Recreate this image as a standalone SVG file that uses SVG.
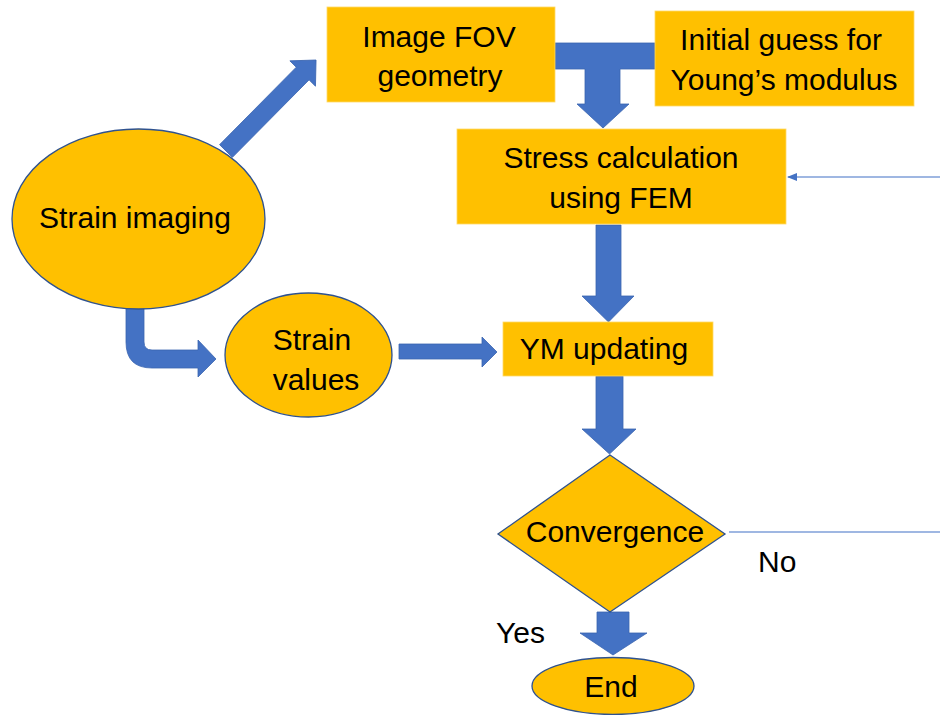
<svg xmlns="http://www.w3.org/2000/svg" width="940" height="715" viewBox="0 0 940 715">
<style>
.box{fill:#FFC000;stroke:#FFD966;stroke-width:0.8}
.oval{fill:#FFC000;stroke:#2F528F;stroke-width:1.3}
.arr{fill:#4472C4;stroke:#3A64B0;stroke-width:0.8}
.thin{stroke:#7F9FD8;stroke-width:1.3;fill:none}
text{font-family:"Liberation Sans",Arial,sans-serif;font-size:30px;fill:#000;text-anchor:middle}
.lbl{text-anchor:start}
</style>
<defs>
<marker id="ah" markerWidth="10" markerHeight="8" refX="9" refY="4" orient="auto" markerUnits="userSpaceOnUse">
<path d="M0,0 L10,4 L0,8 Z" fill="#4472C4"/>
</marker>
</defs>
<rect width="940" height="715" fill="#fff"/>
<g id="connectors">
<path class="arr" transform="translate(226,151) rotate(-45.3)" d="M0,-9 L109,-9 L109,-18 L128,0 L109,18 L109,9 L0,9 Z"/>
<path class="arr" d="M555,43 L655,43 L655,69 L620,69 L620,104 L629,104 L603,128 L577,104 L585,104 L585,69 L555,69 Z"/>
<path class="arr" d="M596,225 L621,225 L621,296 L634,296 L608.5,322 L582,296 L596,296 Z"/>
<path class="arr" d="M596,376 L623,376 L623,429 L636,429 L609.5,454 L582,429 L596,429 Z"/>
<path class="arr" d="M597,612 L629,612 L629,633 L647,633 L613,655 L580,633 L597,633 Z"/>
<path class="arr" d="M126,300 L144,300 L144,342 Q144,350 152,350 L198,350 L198,340 L216,359 L198,377 L198,368 L152,368 Q126,368 126,342 Z"/>
<path class="arr" d="M399,344 L482,344 L482,337 L497,352 L482,367 L482,359 L399,359 Z"/>
<line class="thin" x1="940" y1="177" x2="788" y2="177" marker-end="url(#ah)"/>
<line class="thin" x1="729" y1="532" x2="940" y2="532"/>
</g>
<g id="image-fov">
<rect class="box" x="327" y="7" width="228" height="95"/>
<text x="439" y="47">Image FOV</text>
<text x="440" y="86">geometry</text>
</g>
<g id="initial-guess">
<rect class="box" x="655" y="11" width="259" height="95"/>
<text x="781" y="50">Initial guess for</text>
<text x="784" y="90">Young’s modulus</text>
</g>
<g id="stress-calc">
<rect class="box" x="457" y="129" width="329" height="95"/>
<text x="621" y="168">Stress calculation</text>
<text x="621" y="208">using FEM</text>
</g>
<g id="strain-imaging">
<ellipse class="oval" cx="138.5" cy="219" rx="126.5" ry="90"/>
<text x="135" y="228">Strain imaging</text>
</g>
<g id="strain-values">
<ellipse class="oval" cx="308.5" cy="355" rx="83.5" ry="62"/>
<text x="312" y="350">Strain</text>
<text x="316" y="390">values</text>
</g>
<g id="ym-updating">
<rect class="box" x="503" y="322" width="210" height="54"/>
<text x="604" y="359">YM updating</text>
</g>
<g id="convergence">
<path class="oval" d="M610,455 L725,534 L610,612 L498,534 Z"/>
<text x="615" y="542">Convergence</text>
</g>
<g id="end">
<ellipse class="oval" cx="613" cy="686" rx="81" ry="28.5"/>
<text x="611" y="697">End</text>
</g>
<g id="labels">
<text class="lbl" x="758" y="572">No</text>
<text class="lbl" x="496" y="643">Yes</text>
</g>
</svg>
